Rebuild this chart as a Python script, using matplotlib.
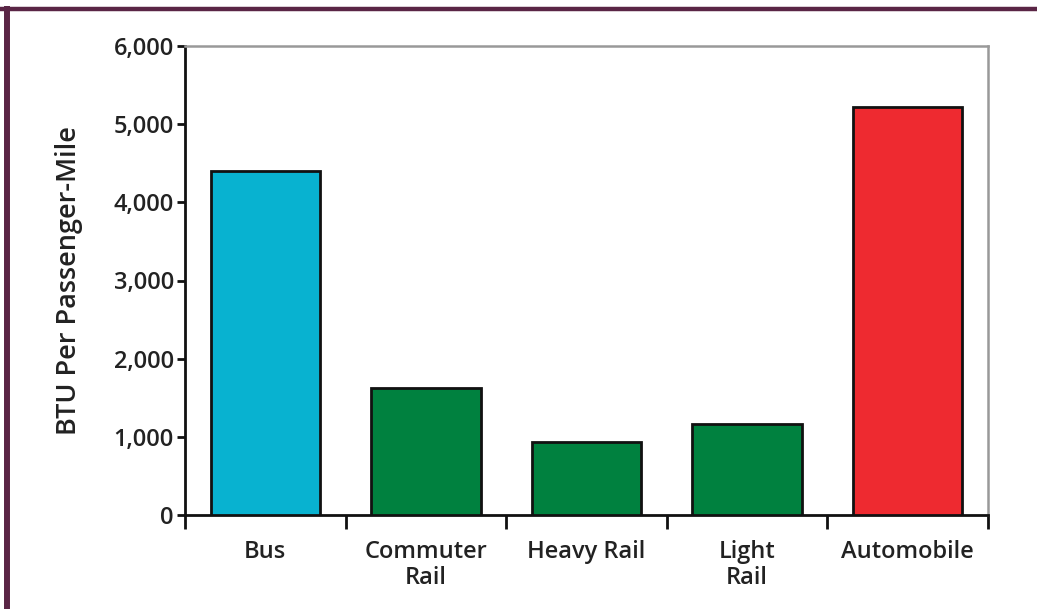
import matplotlib
matplotlib.use("Agg")
import matplotlib.pyplot as plt
from matplotlib.lines import Line2D
import numpy as np

categories = ["Bus", "Commuter\nRail", "Heavy Rail", "Light\nRail", "Automobile"]
btu_values = [4400, 1620, 935, 1170, 5220]
bar_colors = ["#08b2d0", "#00813f", "#00813f", "#00813f", "#ee2a30"]
y_ticks = [0, 1000, 2000, 3000, 4000, 5000, 6000]
y_label = "BTU Per Passenger-Mile"

plt.rcParams['font.family'] = ['Open Sans', 'DejaVu Sans']
FW = "semibold"
FS = 17

fig = plt.figure(figsize=(10.37, 6.09), dpi=100)
ax = fig.add_axes([185/1037, 1-515/609, (988-185)/1037, (515-46)/609])

x = np.arange(len(categories))
ax.bar(x, btu_values, width=0.68, color=bar_colors, edgecolor="#111111", linewidth=2, zorder=3)

ax.set_xlim(-0.5, len(categories)-0.5)
ax.set_ylim(0, 6000)
ax.set_yticks(y_ticks)
ax.set_yticklabels([f"{v:,}" for v in y_ticks], fontweight=FW)
ax.set_xticks(x)
ax.set_xticklabels(categories, linespacing=1.1, fontweight=FW)
ax.set_xticks(np.arange(len(categories)+1) - 0.5, minor=True)

txt = "#222222"
ax.tick_params(axis="y", direction="out", length=6, width=2, color="#111111",
               labelsize=FS, labelcolor=txt, pad=2)
ax.tick_params(axis="x", which="major", length=0, labelsize=FS, labelcolor=txt, pad=18)
ax.tick_params(axis="x", which="minor", direction="out", length=10, width=2, color="#111111")

for s in ["left", "bottom"]:
    ax.spines[s].set_color("#111111")
    ax.spines[s].set_linewidth(2)
for s in ["top", "right"]:
    ax.spines[s].set_color("#999999")
    ax.spines[s].set_linewidth(1.8)

ax.set_ylabel(y_label, fontsize=19.5, color=txt, labelpad=22, fontweight=FW)

# figure border (top and left)
fig.add_artist(Line2D([0, 1], [1-9/609, 1-9/609], transform=fig.transFigure, color="#5a2545", linewidth=3.2))
fig.add_artist(Line2D([7/1037, 7/1037], [0, 1-9/609], transform=fig.transFigure, color="#5a2545", linewidth=4.3))

fig.savefig("out.png", dpi=100, facecolor="white")
